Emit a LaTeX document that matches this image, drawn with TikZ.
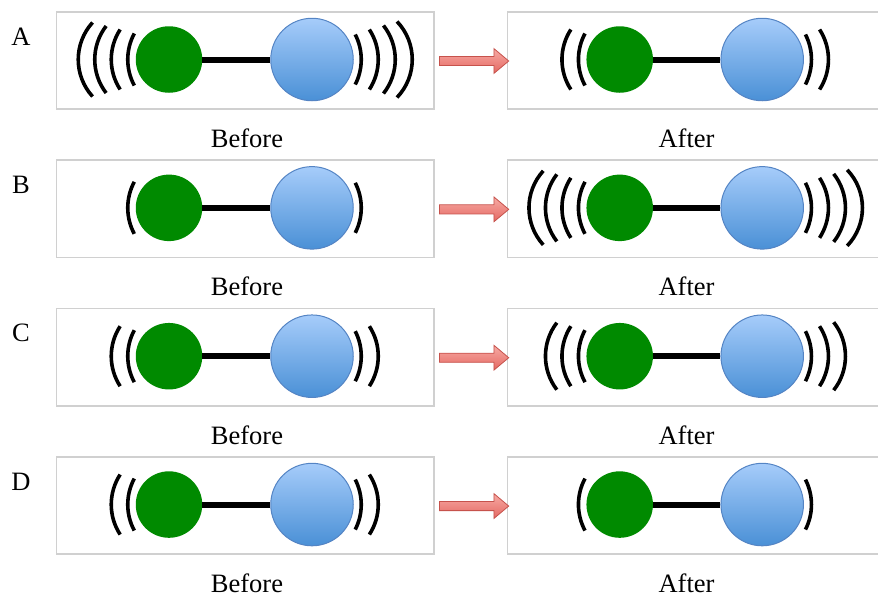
\documentclass[tikz,border=0pt]{standalone}
\usepackage{fontspec}
\setmainfont{Liberation Serif}
\usetikzlibrary{shapes.arrows,calc}
\definecolor{atomgreen}{RGB}{0,138,0}
\definecolor{bluetop}{RGB}{166,204,250}
\definecolor{bluebot}{RGB}{74,144,214}
\definecolor{blueedge}{RGB}{84,132,196}
\definecolor{boxgray}{RGB}{208,208,208}
\definecolor{arrtop}{RGB}{247,170,164}
\definecolor{arrbot}{RGB}{228,104,98}
\definecolor{arredge}{RGB}{198,82,76}
\tikzset{
  panel/.style={draw=boxgray, line width=1.5pt, rectangle, inner sep=0pt, anchor=north west},
  greenatom/.style={circle, fill=atomgreen, minimum size=66.5pt, inner sep=0pt},
  blueatom/.style={circle, top color=bluetop, bottom color=bluebot, draw=blueedge, line width=1pt, minimum size=82.5pt, inner sep=0pt},
  bond/.style={line width=6pt, black},
  wave/.style={line width=3.6pt, black},
  blockarrow/.style={single arrow, draw=arredge, line width=0.8pt, top color=arrtop, bottom color=arrbot,
     inner xsep=0pt, inner ysep=4.15pt, single arrow head extend=7.85pt, single arrow tip angle=80,
     minimum height=69.3pt},
  lbl/.style={font=\fontsize{26.5}{30}\selectfont, anchor=base, inner sep=0pt},
}
% waves on the left of an atom: #1 = x of atom's left edge, #2 = centre y, #3 = number of arcs
\newcommand\wavesleft[3]{%
  \foreach \i in {1,...,#3}{%
    \pgfmathsetmacro\hh{{26,30,33.5,37}[\i-1]}%
    \pgfmathsetmacro\mx{#1-8-16.5*(\i-1)}%
    \pgfmathsetmacro\wth{asin(\hh/55)}%
    \draw[wave] (\mx+55,#2) ++(180-\wth:55pt) arc[start angle=180-\wth,end angle=180+\wth,radius=55pt];
  }}
% waves on the right of an atom: #1 = x of atom's right edge
\newcommand\wavesright[3]{%
  \foreach \i in {1,...,#3}{%
    \pgfmathsetmacro\hh{{25,30,34,38}[\i-1]}%
    \pgfmathsetmacro\mx{#1+8+17*(\i-1)}%
    \pgfmathsetmacro\wth{asin(\hh/55)}%
    \draw[wave] (\mx-55,#2) ++(-\wth:55pt) arc[start angle=-\wth,end angle=\wth,radius=55pt];
  }}
\begin{document}
\begin{tikzpicture}[x=1pt,y=-1pt]
\useasboundingbox (0,0) rectangle (878,595);
\foreach \k/\lett/\nbl/\nbr/\nal/\nar in {0/A/4/4/2/2, 1/B/1/1/4/4, 2/C/2/2/3/3, 3/D/2/2/1/1}{
  \pgfmathsetmacro\t{11+148.35*\k}
  \pgfmathsetmacro\cy{\t+48.5}
  % panels
  \node[panel, minimum width=377.6pt, minimum height=97.3pt] (boxb\k) at (55.7,\t) {};
  \node[panel, minimum width=370.8pt, minimum height=97.3pt] (boxa\k) at (506.7,\t) {};
  % before molecule
  \wavesleft{135.75}{\cy}{\nbl}
  \wavesright{353.25}{\cy}{\nbr}
  \node[greenatom] (gb\k) at (169,\cy) {};
  \node[blueatom] (bb\k) at (312,\cy) {};
  \draw[bond] (gb\k) -- (bb\k);
  % after molecule
  \wavesleft{586.45}{\cy}{\nal}
  \wavesright{803.45}{\cy}{\nar}
  \node[greenatom] (ga\k) at (619.7,\cy) {};
  \node[blueatom] (ba\k) at (762.2,\cy) {};
  \draw[bond] (ga\k) -- (ba\k);
  % arrow
  \node[blockarrow] (arr\k) at (471.35,\cy+1.5) {};
  % labels
  \node[lbl] (let\k) at (21,\t+34) {\lett};
  \node[lbl] (bl\k) at (247,\t+136.3) {Before};
  \node[lbl] (al\k) at (686.5,\t+136.3) {After};
}
\end{tikzpicture}
\end{document}
